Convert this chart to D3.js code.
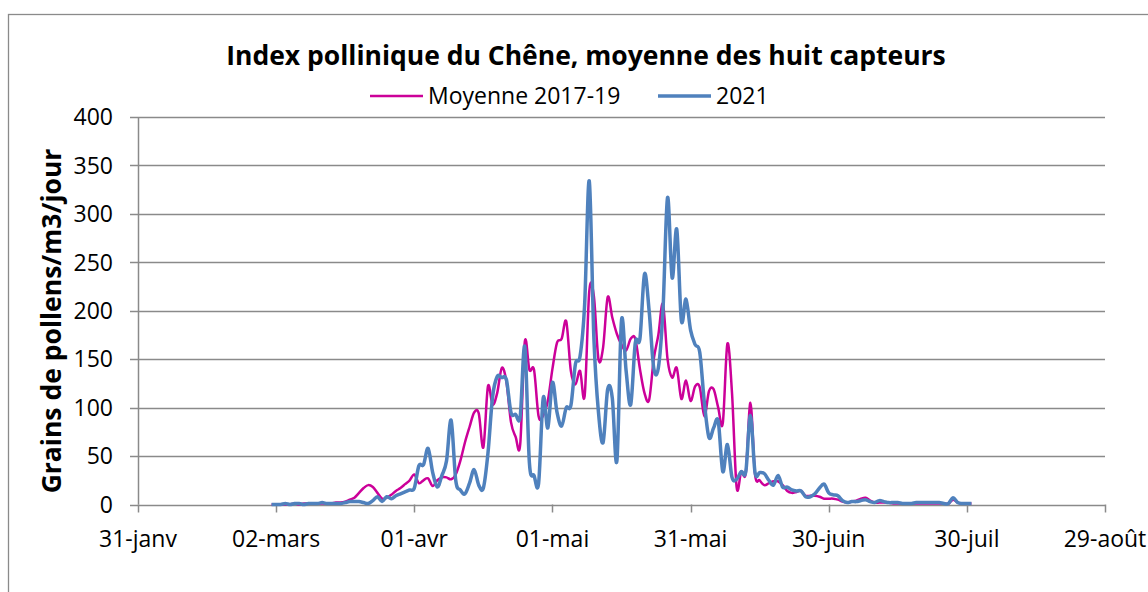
<!DOCTYPE html>
<html>
<head>
<meta charset="utf-8">
<script src="https://cdn.jsdelivr.net/npm/d3@7"></script>
<style>
  body { margin: 0; background: #fff; }
  svg { display: block; font-family: "Open Sans", sans-serif; }
</style>
</head>
<body>
<svg id="chart" width="1148" height="592"></svg>
<script>
const titleText = "Index pollinique du Chêne, moyenne des huit capteurs";
const yLabel = "Grains de pollens/m3/jour";
const seriesNames = ["Moyenne 2017-19", "2021"];
const tickLabels = ["31-janv", "02-mars", "01-avr", "01-mai", "31-mai", "30-juin", "30-juil", "29-août"];
const yTicks = [0, 50, 100, 150, 200, 250, 300, 350, 400];

// daily values, first value = 1 March
const firstDay = new Date(2021, 2, 1);

const moyenne = [
  0, 0, 0, 0, 0, 1, 0, 1, 1, 1, 1, 1, 1, 1, 2,
  2, 3, 5, 7, 12, 17, 20, 18, 12, 6, 7, 10, 14, 17, 21, 25,
  31, 22, 25, 27, 19, 25, 28, 28, 26, 31, 45, 64, 80, 95, 94, 59,
  122, 103, 115, 141, 127, 85, 70, 62, 168, 139, 139, 91,
  92, 107, 140, 167, 171, 189, 138, 124, 138, 112, 220, 215, 150, 162, 214, 193, 176, 165, 159, 171, 171, 140,
  115, 108, 150, 175, 207, 150, 131, 141, 109, 128, 107, 122, 121, 91, 117, 119, 100, 84, 166, 115, 18, 34, 33, 105, 31,
  25, 20, 22, 24, 24, 20, 14, 12, 13, 14, 9, 9, 9, 8, 6, 6, 6, 5, 3, 2, 3, 4, 6, 7, 4, 2, 2, 2, 2, 1,
  1, 1, 1, 1, 1, 1, 1, 1, 1, 1, 1, 1, 5, 2, 1, 1, 1
];

const an2021 = [
  0, 0, 0, 1, 0, 1, 1, 0, 1, 1, 1, 2, 1, 1, 1,
  1, 2, 3, 3, 3, 2, 1, 4, 8, 3, 8, 6, 9, 11, 13, 15,
  17, 40, 41, 58, 33, 18, 30, 45, 87, 25, 15, 11, 22, 36, 20, 17,
  53, 111, 132, 131, 129, 95, 93, 91, 163, 43, 30, 22,
  110, 79, 126, 95, 81, 100, 102, 145, 153, 207, 334, 172, 95, 64, 119, 110, 45, 190, 138, 103, 167, 171,
  238, 200, 141, 141, 200, 317, 234, 284, 190, 212, 180, 165, 157, 105, 69, 79, 86, 34, 62, 28, 26, 34, 34, 92, 33,
  33, 32, 25, 20, 30, 18, 18, 15, 14, 14, 8, 8, 11, 17, 21, 12, 10, 9, 4, 2, 3, 3, 4, 5, 3, 2, 4, 3, 2, 2,
  2, 1, 1, 1, 2, 2, 2, 2, 2, 2, 1, 1, 7, 2, 1, 1, 1
];

const colors = ["#cc0099", "#4f81bd"];
const gridColor = "#8a8a8a";

const svg = d3.select("#chart");
svg.append("rect").attr("width", 1148).attr("height", 592).attr("fill", "#fff");

// outer frame of the chart
svg.append("rect")
  .attr("x", 8.5).attr("y", 14.5)
  .attr("width", 1300).attr("height", 700)
  .attr("fill", "none").attr("stroke", gridColor).attr("stroke-width", 1.3);

const xStart = new Date(2021, 0, 31);
const tickDates = tickLabels.map((d, i) => d3.timeDay.offset(xStart, 30 * i));

const x = d3.scaleTime()
  .domain([xStart, tickDates[tickDates.length - 1]])
  .range([138, 1105]);

const y = d3.scaleLinear()
  .domain([0, 400])
  .range([504.5, 117]);

// gridlines
svg.append("g")
  .selectAll("line")
  .data(yTicks)
  .join("line")
  .attr("x1", 130).attr("x2", 1105)
  .attr("y1", d => Math.round(y(d)) + 0.5)
  .attr("y2", d => Math.round(y(d)) + 0.5)
  .attr("stroke", gridColor)
  .attr("stroke-width", 1.5);

// y axis line
svg.append("line")
  .attr("x1", 138.5).attr("x2", 138.5)
  .attr("y1", y(400)).attr("y2", y(0))
  .attr("stroke", gridColor).attr("stroke-width", 1.5);

// y tick labels
svg.append("g")
  .selectAll("text")
  .data(yTicks)
  .join("text")
  .attr("x", 113)
  .attr("y", d => y(d))
  .attr("dy", "0.36em")
  .attr("text-anchor", "end")
  .attr("font-size", 23)
  .attr("fill", "#000")
  .text(d => d);

// x ticks
const xAxis = svg.append("g");
xAxis.selectAll("line")
  .data(tickDates)
  .join("line")
  .attr("x1", d => Math.round(x(d)) + 0.5)
  .attr("x2", d => Math.round(x(d)) + 0.5)
  .attr("y1", y(0)).attr("y2", y(0) + 8)
  .attr("stroke", gridColor).attr("stroke-width", 1.5);

xAxis.selectAll("text")
  .data(tickDates)
  .join("text")
  .attr("x", d => x(d))
  .attr("y", 547)
  .attr("text-anchor", "middle")
  .attr("font-size", 23)
  .attr("fill", "#000")
  .text((d, i) => tickLabels[i]);

// lines
const line = d3.line()
  .x((d, i) => x(d3.timeDay.offset(firstDay, i)))
  .y(d => y(d))
  .curve(d3.curveCardinal.tension(0));

svg.append("path")
  .datum(moyenne)
  .attr("d", line)
  .attr("fill", "none")
  .attr("stroke", colors[0])
  .attr("stroke-width", 2.5)
  .attr("stroke-linejoin", "round");

svg.append("path")
  .datum(an2021)
  .attr("d", line)
  .attr("fill", "none")
  .attr("stroke", colors[1])
  .attr("stroke-width", 3.5)
  .attr("stroke-linejoin", "round");

// title
svg.append("text")
  .attr("x", 586).attr("y", 65)
  .attr("text-anchor", "middle")
  .attr("font-size", 26.5)
  .attr("font-weight", "bold")
  .text(titleText);

// legend
const legendItems = [
  { name: seriesNames[0], color: colors[0], x1: 370, width: 2.5 },
  { name: seriesNames[1], color: colors[1], x1: 658, width: 3.5 }
];
const legend = svg.append("g");
legendItems.forEach(item => {
  legend.append("line")
    .attr("x1", item.x1).attr("x2", item.x1 + 53)
    .attr("y1", 96).attr("y2", 96)
    .attr("stroke", item.color).attr("stroke-width", item.width);
  legend.append("text")
    .attr("x", item.x1 + 58).attr("y", 96)
    .attr("dy", "0.36em")
    .attr("font-size", 23)
    .text(item.name);
});

// y axis title
svg.append("text")
  .attr("transform", "translate(61,321) rotate(-90)")
  .attr("text-anchor", "middle")
  .attr("font-size", 26.5)
  .attr("font-weight", "bold")
  .text(yLabel);
</script>
</body>
</html>
